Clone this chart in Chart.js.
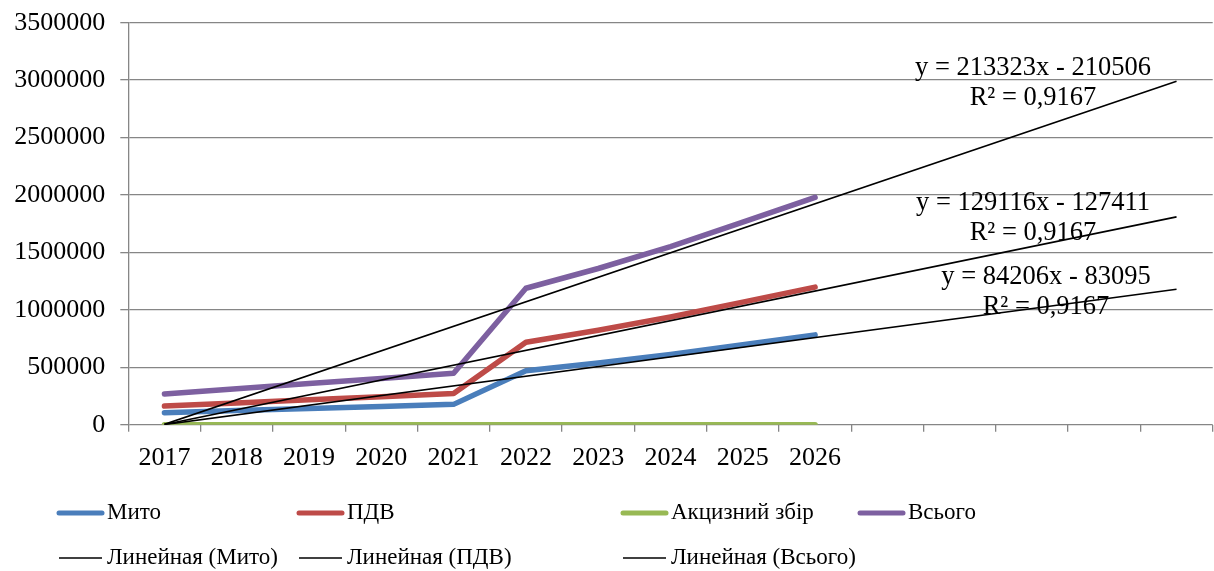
<!DOCTYPE html>
<html>
<head>
<meta charset="utf-8">
<script src="https://cdn.jsdelivr.net/npm/chart.js@4/dist/chart.umd.min.js"></script>
<style>
    html, body { margin: 0; padding: 0; background: #fff; }
    #wrap { width: 1214px; height: 571px; position: relative; }
</style>
</head>
<body>
<div id="wrap"><canvas id="taxChart"></canvas></div>
<script>
// роки + 5 порожніх категорій під прогноз трендів
const years = ['2017', '2018', '2019', '2020', '2021', '2022', '2023', '2024', '2025', '2026', '', '', '', '', ''];

const myto = [105000, 124000, 141000, 159000, 177000, 470000, 537000, 612000, 696000, 782000];
const pdv = [162000, 189000, 217000, 244000, 271000, 718000, 823000, 938000, 1067000, 1198000];
const akcyz = [0, 0, 0, 0, 0, 0, 0, 0, 0, 0];
const vsogo = [267000, 313000, 358000, 403000, 448000, 1188000, 1360000, 1550000, 1763000, 1980000];

// лінійні тренди (Мито, ПДВ, Всього)
const trendNames = ['Линейная (Мито)', 'Линейная (ПДВ)', 'Линейная (Всього)'];
const trendSlopes = [84206, 129116, 213323];
const trendIntercepts = [-83095, -127411, -210506];
const trendR2 = ['0,9167', '0,9167', '0,9167'];

const yTicks = [0, 500000, 1000000, 1500000, 2000000, 2500000, 3000000, 3500000];

const FONT = '"Liberation Serif", "Times New Roman", serif';
const GRID = '#868686';

const trendLine = (i) => {
    const arr = years.map(() => null);
    arr[0] = trendSlopes[i] * 1 + trendIntercepts[i];
    arr[years.length - 1] = trendSlopes[i] * years.length + trendIntercepts[i];
    return arr;
};

const seriesStyle = (label, data, color) => ({
    label: label,
    data: data,
    borderColor: color,
    backgroundColor: color,
    borderWidth: 5.5,
    borderCapStyle: 'round',
    borderJoinStyle: 'round',
    pointRadius: 0,
    tension: 0,
    order: 1
});

const trendStyle = (i) => ({
    label: trendNames[i],
    data: trendLine(i),
    borderColor: '#000',
    backgroundColor: '#000',
    borderWidth: 1.6,
    pointRadius: 0,
    spanGaps: true,
    order: 0
});

// підписи рівнянь трендів
const eqLabels = [
    { text: 'y = 213323x - 210506', r2: trendR2[2], x: 1033, y: 68 },
    { text: 'y = 129116x - 127411', r2: trendR2[1], x: 1033, y: 203 },
    { text: 'y = 84206x - 83095', r2: trendR2[0], x: 1046, y: 277 }
];

const legendCols = [57, 297, 621, 858];
const legendRows = [513, 558];

const extrasPlugin = {
    id: 'extras',
    afterDraw(chart) {
        const ctx = chart.ctx;
        ctx.save();
        ctx.font = '26.5px ' + FONT;
        ctx.fillStyle = '#000';
        ctx.textAlign = 'center';
        ctx.textBaseline = 'middle';
        eqLabels.forEach(l => {
            ctx.fillText(l.text, l.x, l.y);
            ctx.fillText('R² = ' + l.r2, l.x, l.y + 30);
        });

        // легенда у 4 колонки
        ctx.font = '23px ' + FONT;
        ctx.textAlign = 'left';
        chart.data.datasets.forEach((ds, i) => {
            const col = i % 4;
            const row = Math.floor(i / 4);
            const x = legendCols[col];
            const y = legendRows[row];
            const thick = ds.borderWidth > 2;
            ctx.beginPath();
            ctx.strokeStyle = ds.borderColor;
            ctx.lineWidth = thick ? 5 : 1.6;
            ctx.lineCap = thick ? 'round' : 'butt';
            ctx.moveTo(x + 2, y);
            ctx.lineTo(x + 45, y);
            ctx.stroke();
            ctx.fillText(ds.label, x + 50, y);
        });
        ctx.restore();
    }
};

const ctx = document.getElementById('taxChart').getContext('2d');
new Chart(ctx, {
    type: 'line',
    data: {
        labels: years,
        datasets: [
            seriesStyle('Мито', myto, '#4A7EBB'),
            seriesStyle('ПДВ', pdv, '#BE4B48'),
            seriesStyle('Акцизний збір', akcyz, '#98B954'),
            seriesStyle('Всього', vsogo, '#7D60A0'),
            trendStyle(0),
            trendStyle(1),
            trendStyle(2)
        ]
    },
    options: {
        responsive: true,
        maintainAspectRatio: false,
        animation: false,
        layout: {
            padding: { top: 22.7, right: 1.3, left: 0, bottom: 0 }
        },
        scales: {
            x: {
                type: 'category',
                offset: true,
                grid: {
                    offset: true,
                    drawOnChartArea: false,
                    drawTicks: true,
                    tickLength: 7,
                    color: GRID,
                    lineWidth: 1.3
                },
                border: { display: false },
                ticks: {
                    autoSkip: false,
                    maxRotation: 0,
                    padding: 10.5,
                    color: '#000',
                    font: { family: FONT, size: 26 }
                },
                afterFit(scale) { scale.height = 146.3; }
            },
            y: {
                min: 0,
                max: 3500000,
                afterBuildTicks(scale) { scale.ticks = yTicks.map(v => ({ value: v })); },
                grid: {
                    color: GRID,
                    lineWidth: 1.3,
                    tickLength: 8
                },
                border: { color: GRID, width: 1.3 },
                ticks: {
                    padding: 15,
                    color: '#000',
                    font: { family: FONT, size: 26 },
                    callback: (v) => String(v)
                },
                afterFit(scale) {
                    scale.width = 128.3;
                    scale.paddingTop = 0;
                    scale.paddingBottom = 0;
                }
            }
        },
        plugins: {
            legend: { display: false },
            tooltip: { enabled: false }
        }
    },
    plugins: [extrasPlugin]
});
</script>
</body>
</html>
